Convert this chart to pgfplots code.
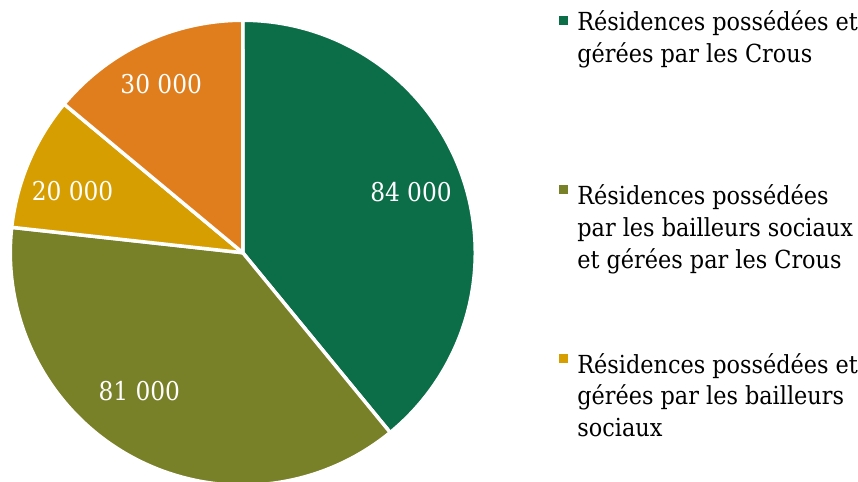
\documentclass[border=0pt]{standalone}
\usepackage{pgfplots}
\pgfplotsset{compat=1.18}
\usepackage{fontspec}
\setmainfont{DejaVu Serif Condensed}
\definecolor{cgreen}{RGB}{12,110,72}
\definecolor{colive}{RGB}{120,128,40}
\definecolor{cgold}{RGB}{214,158,0}
\definecolor{corange}{RGB}{224,126,30}
\begin{document}
\begin{tikzpicture}
% values in thousands
\pgfmathsetmacro{\vA}{84}
\pgfmathsetmacro{\vB}{81}
\pgfmathsetmacro{\vC}{20}
\pgfmathsetmacro{\vD}{30}
\pgfmathsetmacro{\tot}{\vA+\vB+\vC+\vD}
\pgfmathsetmacro{\aA}{90}
\pgfmathsetmacro{\aB}{\aA-\vA/\tot*360}
\pgfmathsetmacro{\aC}{\aB-\vB/\tot*360}
\pgfmathsetmacro{\aD}{\aC-\vC/\tot*360}
\pgfmathsetmacro{\aE}{\aD-\vD/\tot*360}
\begin{axis}[x=232pt, y=232pt, hide axis,
  xmin=-1.0517, xmax=2.6466, ymin=-0.9914, ymax=1.0948,
  clip mode=individual]
\path (rel axis cs:0,0) rectangle (rel axis cs:1,1);
\coordinate (O) at (rel axis cs:0,1);
\addplot[fill=cgreen, draw=white, line width=3.5pt, line join=round, domain=\aB:\aA, samples=120, variable=\t] ({1.007*cos(\t)},{1.007*sin(\t)}) -- (axis cs:0,0) -- cycle;
\addplot[fill=colive, draw=white, line width=3.5pt, line join=round, domain=\aC:\aB, samples=120, variable=\t] ({1.007*cos(\t)},{1.007*sin(\t)}) -- (axis cs:0,0) -- cycle;
\addplot[fill=cgold, draw=white, line width=3.5pt, line join=round, domain=\aD:\aC, samples=40, variable=\t] ({1.007*cos(\t)},{1.007*sin(\t)}) -- (axis cs:0,0) -- cycle;
\addplot[fill=corange, draw=white, line width=3.5pt, line join=round, domain=\aE:\aD, samples=50, variable=\t] ({1.007*cos(\t)},{1.007*sin(\t)}) -- (axis cs:0,0) -- cycle;
\end{axis}
\begin{scope}[shift={(O)}, x=1pt, y=1pt]
  \begin{scope}[every node/.style={text=white, inner sep=0pt, anchor=base, font=\fontsize{26}{30}\selectfont}]
    \node at (413,-203) {84 000};
    \node at (140,-402) {81 000};
    \node at (73,-202) {20 000};
    \node at (162,-94) {30 000};
  \end{scope}
  \begin{scope}[every node/.style={inner sep=0pt, anchor=base west, align=left, font=\fontsize{25}{32}\selectfont}]
    \fill[cgreen] (562,-16) rectangle (571,-25);
    \node at (580,-63) {Résidences possédées et\\gérées par les Crous};
    \fill[colive] (562,-186) rectangle (571,-195);
    \node at (580,-270) {Résidences possédées\\par les bailleurs sociaux\\et gérées par les Crous};
    \fill[cgold] (562,-356) rectangle (571,-365);
    \node at (580,-439) {Résidences possédées et\\gérées par les bailleurs\\sociaux};
  \end{scope}
\end{scope}
\end{tikzpicture}
\end{document}
